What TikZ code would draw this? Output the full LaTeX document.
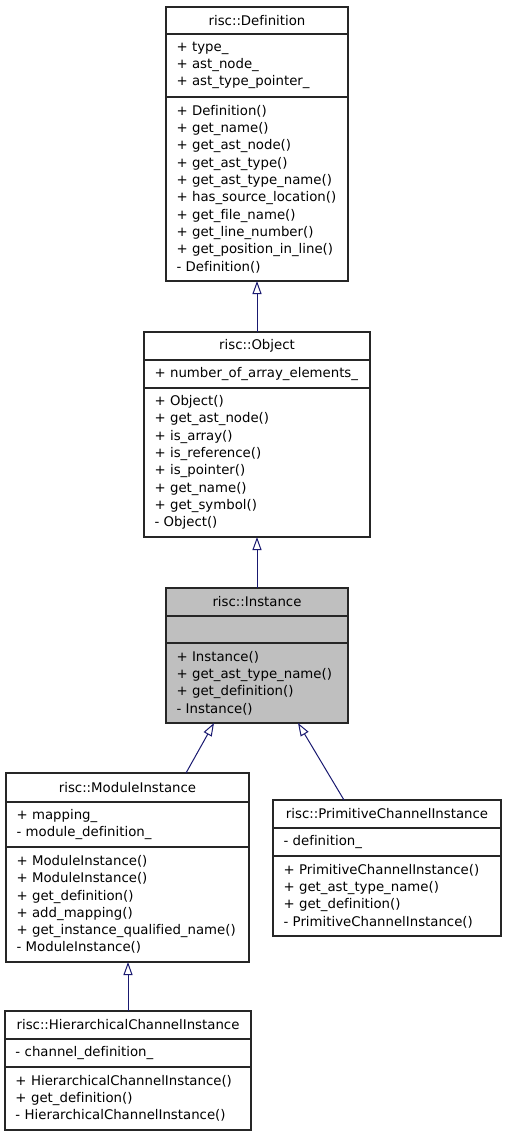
\documentclass[tikz,border=0pt]{standalone}
\usepackage{fontspec}
\setmainfont{DejaVu Sans}[Ligatures=NoCommon]
\usetikzlibrary{arrows.meta,calc}
\definecolor{edgeblue}{HTML}{191970}

\begin{document}
\begin{tikzpicture}[x=1pt,y=-1pt,
  font=\fontsize{13.3}{17.3}\selectfont,
  box/.style={draw=black!85,line width=1.1pt,fill=white,inner xsep=10.5pt,inner ysep=3pt,outer sep=0pt},
  head/.style={box,align=center},
  part/.style={box,align=left,anchor=north},
  inherit/.style={draw=edgeblue,line width=1pt,-{Triangle[open,length=13pt,width=9pt,fill=white]}}]

\useasboundingbox (0,0) rectangle (505,1136);

% risc::Definition
\node[head,text width=161pt,minimum height=27pt] (def) at (257,20.5) {risc::Definition};
\node[part,text width=161pt,minimum height=63pt] (defA) at (def.south) {+ type\_\\+ ast\_node\_\\+ ast\_type\_pointer\_};
\node[part,text width=161pt,minimum height=184pt] (defM) at (defA.south) {+ Definition()\\+ get\_name()\\+ get\_ast\_node()\\+ get\_ast\_type()\\+ get\_ast\_type\_name()\\+ has\_source\_location()\\+ get\_file\_name()\\+ get\_line\_number()\\+ get\_position\_in\_line()\\- Definition()};

% risc::Object
\node[head,text width=205pt,minimum height=28pt] (obj) at (257,346) {risc::Object};
\node[part,text width=205pt,minimum height=28pt] (objA) at (obj.south) {+ number\_of\_array\_elements\_};
\node[part,text width=205pt,minimum height=149pt] (objM) at (objA.south) {+ Object()\\+ get\_ast\_node()\\+ is\_array()\\+ is\_reference()\\+ is\_pointer()\\+ get\_name()\\+ get\_symbol()\\- Object()};

% risc::Instance
\node[head,fill=black!25,text width=161pt,minimum height=28pt] (inst) at (257,602) {risc::Instance};
\node[part,fill=black!25,text width=161pt,minimum height=27pt] (instA) at (inst.south) {};
\node[part,fill=black!25,text width=161pt,minimum height=80pt] (instM) at (instA.south) {+ Instance()\\+ get\_ast\_type\_name()\\+ get\_definition()\\- Instance()};

% risc::ModuleInstance
\node[head,text width=222pt,minimum height=29pt] (mod) at (127.5,787.5) {risc::ModuleInstance};
\node[part,text width=222pt,minimum height=45pt] (modA) at (mod.south) {+ mapping\_\\- module\_definition\_};
\node[part,text width=222pt,minimum height=115pt] (modM) at (modA.south) {+ ModuleInstance()\\+ ModuleInstance()\\+ get\_definition()\\+ add\_mapping()\\+ get\_instance\_qualified\_name()\\- ModuleInstance()};

% risc::PrimitiveChannelInstance
\node[head,text width=207pt,minimum height=28pt] (prim) at (387,814) {risc::PrimitiveChannelInstance};
\node[part,text width=207pt,minimum height=28pt] (primA) at (prim.south) {- definition\_};
\node[part,text width=207pt,minimum height=80pt] (primM) at (primA.south) {+ PrimitiveChannelInstance()\\+ get\_ast\_type\_name()\\+ get\_definition()\\- PrimitiveChannelInstance()};

% risc::HierarchicalChannelInstance
\node[head,text width=225pt,minimum height=28pt] (hier) at (128,1025) {risc::HierarchicalChannelInstance};
\node[part,text width=225pt,minimum height=28pt] (hierA) at (hier.south) {- channel\_definition\_};
\node[part,text width=225pt,minimum height=63pt] (hierM) at (hierA.south) {+ HierarchicalChannelInstance()\\+ get\_definition()\\- HierarchicalChannelInstance()};

% inheritance
\draw[inherit] (obj.north) -- (defM.south);
\draw[inherit] (inst.north) -- (objM.south);
\draw[inherit] ($(mod.north)+(58.5,0)$) -- ($(instM.south)+(-43,0)$);
\draw[inherit] ($(prim.north)+(-43,0)$) -- ($(instM.south)+(41,0)$);
\draw[inherit] (hier.north) -- (hier.north |- modM.south);

\end{tikzpicture}
\end{document}
